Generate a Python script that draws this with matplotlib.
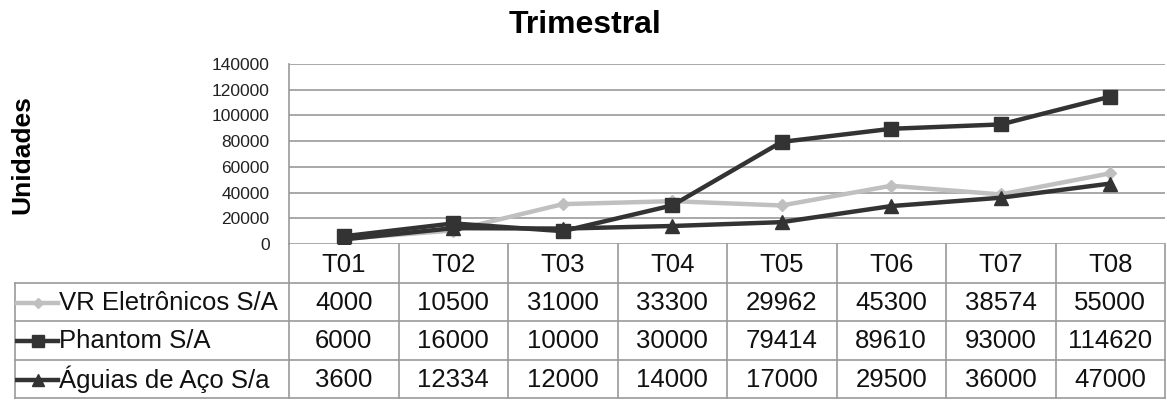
import matplotlib

matplotlib.use("Agg")
import matplotlib.pyplot as plt
from matplotlib.lines import Line2D

plt.rcParams["font.family"] = ["Liberation Sans", "DejaVu Sans"]

quarters = ["T01", "T02", "T03", "T04", "T05", "T06", "T07", "T08"]
series_names = ["VR Eletrônicos S/A", "Phantom S/A", "Águias de Aço S/a"]
vr_values = [4000, 10500, 31000, 33300, 29962, 45300, 38574, 55000]
phantom_values = [6000, 16000, 10000, 30000, 79414, 89610, 93000, 114620]
aguias_values = [3600, 12334, 12000, 14000, 17000, 29500, 36000, 47000]
y_ticks = [0, 20000, 40000, 60000, 80000, 100000, 120000, 140000]

W, H = 1167, 400
GRID = "#9a9a9a"
styles = [
    dict(color="#c0c0c0", marker="D", markersize=6, lw=3.2),
    dict(color="#333333", marker="s", markersize=10, lw=3.2),
    dict(color="#333333", marker="^", markersize=10, lw=3.2),
]
values = [vr_values, phantom_values, aguias_values]


def fig_rect(left, top, right, bottom):
    return [left / W, 1 - bottom / H, (right - left) / W, (bottom - top) / H]


fig = plt.figure(figsize=(W / 100, H / 100), dpi=100)

# plot area
p_left, p_right, p_top, p_bottom = 289, 1165, 64, 244
ax = fig.add_axes(fig_rect(p_left, p_top, p_right, p_bottom))
x = list(range(len(quarters)))
for vals, st in zip(values, styles):
    ax.plot(x, vals, color=st["color"], lw=st["lw"], marker=st["marker"],
            markersize=st["markersize"], markeredgecolor=st["color"], zorder=3,
            solid_joinstyle="miter")
ax.set_xlim(-0.5, len(quarters) - 0.5)
ax.set_ylim(0, 140000)
ax.set_yticks(y_ticks)
ax.set_yticklabels([str(v) for v in y_ticks], fontsize=12.5, color="#222222")
ax.tick_params(axis="y", length=0, pad=14)
ax.set_xticks([])
ax.grid(axis="y", color=GRID, lw=1.2)
for side in ["top", "right", "bottom"]:
    ax.spines[side].set_visible(False)
ax.spines["left"].set_color(GRID)
ax.spines["left"].set_linewidth(1.2)

fig.text(585 / W, 1 - 25 / H, "Trimestral", ha="center", va="center",
         fontsize=23, fontweight="bold")
fig.text(22 / W, 1 - 155 / H, "Unidades", ha="center", va="center",
         rotation=90, fontsize=19, fontweight="bold")

# data table
t_left, t_top, t_bottom = 15, 244, 398
col_w = (p_right - p_left) / len(quarters)
x0 = -0.5 - (p_left - t_left) / col_w
tab = fig.add_axes(fig_rect(t_left, t_top, p_right, t_bottom))
tab.set_xlim(x0, len(quarters) - 0.5)
tab.set_ylim(4, 0)
tab.axis("off")

n_rows = len(series_names) + 1
for i in range(len(quarters) + 1):
    tab.plot([i - 0.5, i - 0.5], [0, n_rows], color=GRID, lw=1.2, clip_on=False)
tab.plot([x0, x0], [1, n_rows], color=GRID, lw=1.2, clip_on=False)
for r in range(1, n_rows + 1):
    tab.plot([x0, len(quarters) - 0.5], [r, r], color=GRID, lw=1.2, clip_on=False)

for i, q in enumerate(quarters):
    tab.text(i, 0.55, q, ha="center", va="center", fontsize=18.5, color="#111111")

key_a = x0 + 2 / col_w
key_b = x0 + 43 / col_w
for r, (name, vals, st) in enumerate(zip(series_names, values, styles), start=1):
    yc = r + 0.52
    tab.add_line(Line2D([key_a, key_b], [yc, yc], color=st["color"], lw=st["lw"]))
    tab.add_line(Line2D([(key_a + key_b) / 2], [yc], marker=st["marker"],
                        markersize=st["markersize"] * 0.9, color=st["color"]))
    tab.text(key_b + 0.01, yc, name, ha="left", va="center", fontsize=18.5,
             color="#111111")
    for i, v in enumerate(vals):
        tab.text(i, yc, str(v), ha="center", va="center", fontsize=18.5,
                 color="#111111")

fig.savefig("out.png", dpi=100)
